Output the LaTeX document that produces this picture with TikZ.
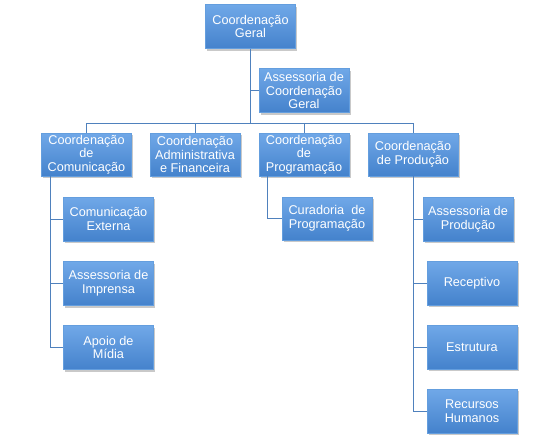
\documentclass[tikz,border=0pt]{standalone}
\usepackage{fontspec}
\setmainfont{Liberation Sans}
\usetikzlibrary{shadows}
\definecolor{boxtop}{RGB}{112,168,232}
\definecolor{boxbot}{RGB}{68,130,204}
\definecolor{boxedge}{RGB}{100,158,222}
\definecolor{linec}{RGB}{79,129,189}
\tikzset{
  box/.style={rectangle, inner sep=1pt, minimum width=90pt, minimum height=44pt,
    top color=boxtop, bottom color=boxbot, draw=boxedge, line width=0.3pt,
    text=white, align=center,
    font=\fontsize{12.7}{13.6}\selectfont,
    drop shadow={shadow xshift=1.5pt, shadow yshift=-2.2pt, opacity=0.3, fill=black!70}},
  conn/.style={draw=linec, line width=0.9pt}
}
\begin{document}
\begin{tikzpicture}[x=1pt,y=-1pt]
\useasboundingbox (0,0) rectangle (558,442);
\node[box] (g) at (250.5,26.5) {Coordenação\\Geral};
\node[box] (acg) at (304,90.5) {Assessoria de\\Coordenação\\Geral};
\node[box, minimum height=43pt] (com) at (86.5,154.5) {Coordenação\\de\\Comunicação};
\node[box, minimum height=43pt] (adm) at (195,154.5) {Coordenação\\Administrativa\\e Financeira};
\node[box, minimum height=43pt] (prg) at (304,154.5) {Coordenação\\de\\Programação};
\node[box, minimum height=43pt] (prod) at (413,154.5) {Coordenação\\de Produção};
\node[box] (ce) at (108.5,219) {Comunicação\\Externa};
\node[box] (ai) at (108.5,283.5) {Assessoria de\\Imprensa};
\node[box] (am) at (108.5,347.5) {Apoio de\\Mídia};
\node[box, minimum height=43pt] (cur) at (327,218.5) {Curadoria\ \ de\\Programação};
\node[box] (ap) at (468,219) {Assessoria de\\Produção};
\node[box] (rec) at (472,283) {Receptivo};
\node[box] (est) at (472,347) {Estrutura};
\node[box] (rh) at (472,411) {Recursos\\Humanos};
\coordinate (bus) at (0,123);
\draw[conn] (g.south) -- (g.south |- bus);
\draw[conn] (acg.west) -- (acg.west -| g.south);
\draw[conn] (com.north |- bus) -- (prod.north |- bus);
\draw[conn] (com.north) -- (com.north |- bus);
\draw[conn] (adm.north) -- (adm.north |- bus);
\draw[conn] (prg.north) -- (prg.north |- bus);
\draw[conn] (prod.north) -- (prod.north |- bus);
\draw[conn] ([xshift=9pt]com.south west) |- (ce.west);
\draw[conn] ([xshift=9pt]com.south west) |- (ai.west);
\draw[conn] ([xshift=9pt]com.south west) |- (am.west);
\draw[conn] ([xshift=9pt]prg.south west) |- (cur.west);
\draw[conn] (prod.south) |- (ap.west);
\draw[conn] (prod.south) |- (rec.west);
\draw[conn] (prod.south) |- (est.west);
\draw[conn] (prod.south) |- (rh.west);
\end{tikzpicture}
\end{document}
